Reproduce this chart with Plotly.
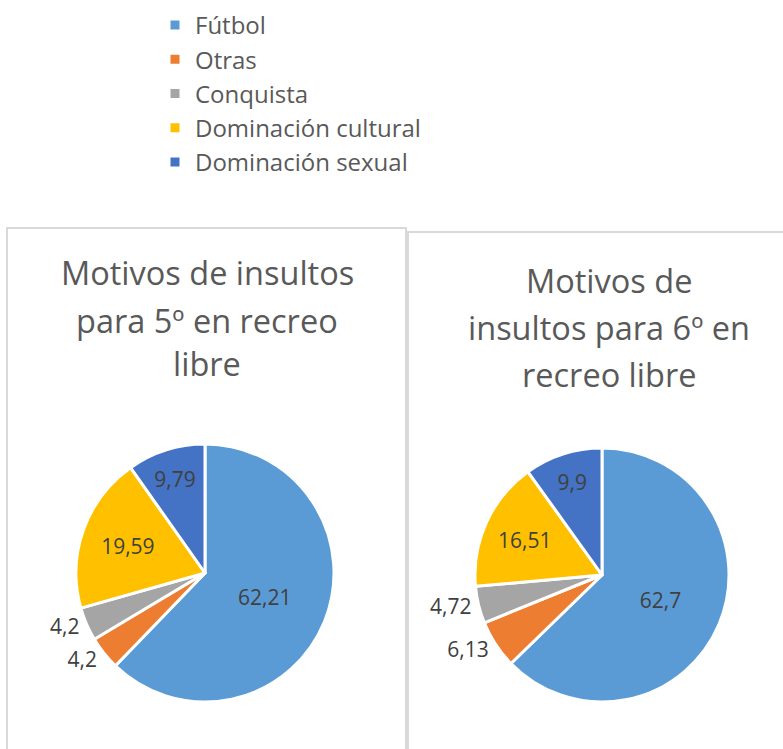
import plotly.graph_objects as go

W, H = 783, 749

categories = ["Fútbol", "Otras", "Conquista", "Dominación cultural", "Dominación sexual"]
values_5 = [62.21, 4.2, 4.2, 19.59, 9.79]
values_6 = [62.7, 6.13, 4.72, 16.51, 9.9]
colors = ["#5B9BD5", "#ED7D31", "#A5A5A5", "#FFC000", "#4472C4"]
title_5 = ["Motivos de insultos", "para 5º en recreo", "libre"]
title_6 = ["Motivos de", "insultos para 6º en", "recreo libre"]

FONT = "Open Sans"
TXT = "#595959"
LBL = "#404040"

def dom(cx, cy, r):
    return dict(x=[(cx - r) / W, (cx + r) / W], y=[1 - (cy + r) / H, 1 - (cy - r) / H])

positions = ["inside", "outside", "outside", "inside", "inside"]

fig = go.Figure()
fig.add_trace(go.Pie(
    labels=categories, values=values_5, sort=False, direction="clockwise", rotation=0,
    marker=dict(colors=colors, line=dict(color="white", width=3)),
    textinfo="value", textposition=positions, insidetextorientation="horizontal",
    textfont=dict(family=FONT, size=21, color=LBL),
    domain=dom(205, 573, 129), hoverinfo="label+value",
))
fig.add_trace(go.Pie(
    labels=categories, values=values_6, sort=False, direction="clockwise", rotation=0,
    marker=dict(colors=colors, line=dict(color="white", width=3)),
    textinfo="value", textposition=positions, insidetextorientation="horizontal",
    textfont=dict(family=FONT, size=21, color=LBL),
    domain=dom(602, 575, 127), hoverinfo="label+value",
))

shapes = [
    dict(type="rect", xref="paper", yref="paper", x0=7 / W, x1=406 / W, y0=-0.05, y1=1 - 228 / H,
         line=dict(color="#D9D9D9", width=2), fillcolor="rgba(0,0,0,0)", layer="below"),
    dict(type="rect", xref="paper", yref="paper", x0=408 / W, x1=1.05, y0=-0.05, y1=1 - 232 / H,
         line=dict(color="#D9D9D9", width=2), fillcolor="rgba(0,0,0,0)", layer="below"),
]

annotations = []
for txt, yy in zip(title_5, [272, 320, 363]):
    annotations.append(dict(text=txt, x=207 / W, y=1 - yy / H, xref="paper", yref="paper",
                            showarrow=False, xanchor="center", yanchor="middle",
                            font=dict(family=FONT, size=32.5, color=TXT)))
for txt, yy in zip(title_6, [280, 327, 374]):
    annotations.append(dict(text=txt, x=609 / W, y=1 - yy / H, xref="paper", yref="paper",
                            showarrow=False, xanchor="center", yanchor="middle",
                            font=dict(family=FONT, size=32.5, color=TXT)))

fig.update_layout(
    width=W, height=H, autosize=False,
    margin=dict(l=0, r=0, t=0, b=0),
    paper_bgcolor="white", plot_bgcolor="white",
    separators=",.",
    showlegend=True,
    legend=dict(x=155 / W, y=1 - 3 / H, xanchor="left", yanchor="top",
                font=dict(family=FONT, size=24, color=TXT), bgcolor="rgba(0,0,0,0)"),
    shapes=shapes, annotations=annotations,
)

fig.write_html("out.html", config={"displayModeBar": False},
               post_script="document.body.style.margin='0';")
